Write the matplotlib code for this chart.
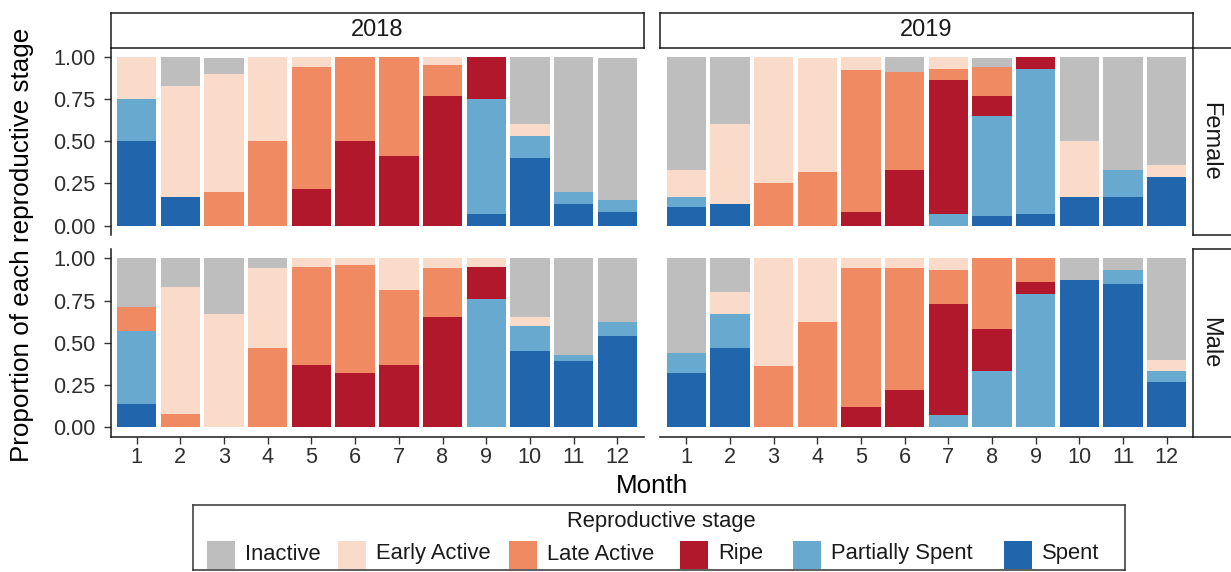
import numpy as np
import matplotlib.pyplot as plt
from matplotlib.patches import Rectangle

plt.rcParams["font.family"] = ["Liberation Sans", "DejaVu Sans"]

# --- Data: proportion of each reproductive stage per month ---
# rows follow STAGES (bottom of the stack first), columns are months 1..12
MONTHS = np.arange(1, 13)
STAGES = ["Spent", "Partially Spent", "Ripe", "Late Active", "Early Active", "Inactive"]
LEGEND_ORDER = ["Inactive", "Early Active", "Late Active", "Ripe", "Partially Spent", "Spent"]
COLORS = {
    "Inactive": "#BEBEBE",
    "Early Active": "#FADBCA",
    "Late Active": "#EF8A62",
    "Ripe": "#B2182B",
    "Partially Spent": "#67A9CF",
    "Spent": "#2166AC",
}

female_2018 = [
    [0.50, 0.17, 0.00, 0.00, 0.00, 0.00, 0.00, 0.00, 0.07, 0.40, 0.13, 0.08],
    [0.25, 0.00, 0.00, 0.00, 0.00, 0.00, 0.00, 0.00, 0.68, 0.13, 0.07, 0.07],
    [0.00, 0.00, 0.00, 0.00, 0.22, 0.50, 0.41, 0.77, 0.25, 0.00, 0.00, 0.00],
    [0.00, 0.00, 0.20, 0.50, 0.72, 0.50, 0.59, 0.18, 0.00, 0.00, 0.00, 0.00],
    [0.25, 0.66, 0.70, 0.50, 0.06, 0.00, 0.00, 0.05, 0.00, 0.07, 0.00, 0.00],
    [0.00, 0.17, 0.09, 0.00, 0.00, 0.00, 0.00, 0.00, 0.00, 0.40, 0.80, 0.84],
]
female_2019 = [
    [0.11, 0.13, 0.00, 0.00, 0.00, 0.00, 0.00, 0.06, 0.07, 0.17, 0.17, 0.29],
    [0.06, 0.00, 0.00, 0.00, 0.00, 0.00, 0.07, 0.59, 0.86, 0.00, 0.16, 0.00],
    [0.00, 0.00, 0.00, 0.00, 0.08, 0.33, 0.79, 0.12, 0.07, 0.00, 0.00, 0.00],
    [0.00, 0.00, 0.25, 0.32, 0.84, 0.58, 0.07, 0.17, 0.00, 0.00, 0.00, 0.00],
    [0.16, 0.47, 0.75, 0.67, 0.08, 0.00, 0.07, 0.00, 0.00, 0.33, 0.00, 0.07],
    [0.67, 0.40, 0.00, 0.00, 0.00, 0.09, 0.00, 0.05, 0.00, 0.50, 0.67, 0.64],
]
male_2018 = [
    [0.14, 0.00, 0.00, 0.00, 0.00, 0.00, 0.00, 0.00, 0.00, 0.45, 0.39, 0.54],
    [0.43, 0.00, 0.00, 0.00, 0.00, 0.00, 0.00, 0.00, 0.76, 0.15, 0.04, 0.08],
    [0.00, 0.00, 0.00, 0.00, 0.37, 0.32, 0.37, 0.65, 0.19, 0.00, 0.00, 0.00],
    [0.14, 0.08, 0.00, 0.47, 0.58, 0.64, 0.44, 0.29, 0.00, 0.00, 0.00, 0.00],
    [0.00, 0.75, 0.67, 0.47, 0.05, 0.04, 0.19, 0.06, 0.05, 0.05, 0.00, 0.00],
    [0.29, 0.17, 0.33, 0.06, 0.00, 0.00, 0.00, 0.00, 0.00, 0.35, 0.57, 0.38],
]
male_2019 = [
    [0.32, 0.47, 0.00, 0.00, 0.00, 0.00, 0.00, 0.00, 0.00, 0.87, 0.85, 0.27],
    [0.12, 0.20, 0.00, 0.00, 0.00, 0.00, 0.07, 0.33, 0.79, 0.00, 0.08, 0.06],
    [0.00, 0.00, 0.00, 0.00, 0.12, 0.22, 0.66, 0.25, 0.07, 0.00, 0.00, 0.00],
    [0.00, 0.00, 0.36, 0.62, 0.82, 0.72, 0.20, 0.42, 0.14, 0.00, 0.00, 0.00],
    [0.00, 0.13, 0.64, 0.38, 0.06, 0.06, 0.07, 0.00, 0.00, 0.00, 0.00, 0.07],
    [0.56, 0.20, 0.00, 0.00, 0.00, 0.00, 0.00, 0.00, 0.00, 0.13, 0.07, 0.60],
]

YEARS = [2018, 2019]
SEXES = ["Female", "Male"]
panels = {
    ("Female", 2018): female_2018,
    ("Female", 2019): female_2019,
    ("Male", 2018): male_2018,
    ("Male", 2019): male_2019,
}

# --- Layout in pixels ---
W, H = 1231, 572
fig = plt.figure(figsize=(W / 100, H / 100), dpi=100)

def px_axes(x0, y0, x1, y1):
    return fig.add_axes([x0 / W, 1 - y1 / H, (x1 - x0) / W, (y1 - y0) / H])

col_x = {2018: (110.5, 643.5), 2019: (660, 1193)}
row_y = {"Female": (47.5, 235), "Male": (249, 436.5)}

LINE = "#1A1A1A"
for sex in SEXES:
    for year in YEARS:
        x0, x1 = col_x[year]
        y0, y1 = row_y[sex]
        ax = px_axes(x0, y0, x1, y1)
        vals = np.array(panels[(sex, year)])
        bottom = np.zeros(len(MONTHS))
        for stage, row in zip(STAGES, vals):
            ax.bar(MONTHS, row, bottom=bottom, width=0.9,
                   color=COLORS[stage], linewidth=0)
            bottom += row
        ax.set_xlim(0.4, 12.6)
        ax.set_ylim(-0.055, 1.055)
        for side in ["top", "right", "left", "bottom"]:
            ax.spines[side].set_visible(False)
        ax.tick_params(colors="#333333", labelcolor="#2E2E2E",
                       labelsize=15.6, length=5, width=1.0)
        ax.set_xticks(MONTHS)
        ax.set_yticks([0, 0.25, 0.5, 0.75, 1.0])
        ax.set_yticklabels(["0.00", "0.25", "0.50", "0.75", "1.00"])
        ax.tick_params(axis="y", pad=6)
        ax.tick_params(axis="x", pad=2.5)
        if year == 2018:
            ax.spines["left"].set_visible(True)
            ax.spines["left"].set_linewidth(1.1)
            ax.spines["left"].set_color(LINE)
        else:
            ax.tick_params(axis="y", left=False, labelleft=False)
        if sex == "Male":
            ax.spines["bottom"].set_visible(True)
            ax.spines["bottom"].set_linewidth(1.1)
            ax.spines["bottom"].set_color(LINE)
        else:
            ax.tick_params(axis="x", bottom=False, labelbottom=False)

# --- Facet strips ---
def strip(x0, y0, x1, y1, label, rotation=0, tx=0.5):
    sax = px_axes(x0, y0, x1, y1)
    sax.set_xticks([])
    sax.set_yticks([])
    for sp in sax.spines.values():
        sp.set_linewidth(1.1)
        sp.set_color(LINE)
    sax.text(tx, 0.5, label, transform=sax.transAxes, ha="center", va="center",
             rotation=rotation, fontsize=17, color=LINE)

for year in YEARS:
    x0, x1 = col_x[year]
    strip(x0, 13, x1, 47.5, str(year))
for sex in SEXES:
    y0, y1 = row_y[sex]
    # right strips run past the edge of the figure
    strip(1193, y0, 1245, y1, sex, rotation=-90, tx=17 / 52)

# --- Axis titles ---
fig.text(22 / W, 1 - 245 / H, "Proportion of each reproductive stage",
         rotation=90, ha="center", va="center", fontsize=18.7)
fig.text(651.7 / W, 1 - 486 / H, "Month", ha="center", va="center", fontsize=18.7)

# --- Legend box, drawn in pixel units ---
lx0, ly0, lx1, ly1 = 193, 505, 1125, 570
lax = px_axes(lx0, ly0, lx1, ly1)
lax.set_xlim(lx0, lx1)
lax.set_ylim(ly1, ly0)
lax.set_xticks([])
lax.set_yticks([])
for sp in lax.spines.values():
    sp.set_linewidth(1.1)
    sp.set_color("#333333")
lax.text(661, 522, "Reproductive stage", ha="center", va="center",
         fontsize=15.8, color=LINE)
key_x = [207, 338, 509, 680, 793, 1004]
for stage, kx in zip(LEGEND_ORDER, key_x):
    lax.add_patch(Rectangle((kx, 541), 28, 28, facecolor=COLORS[stage],
                            edgecolor="none"))
    lax.text(kx + 38, 554, stage, ha="left", va="center",
             fontsize=15.8, color=LINE)

fig.savefig("out.png", dpi=100)
